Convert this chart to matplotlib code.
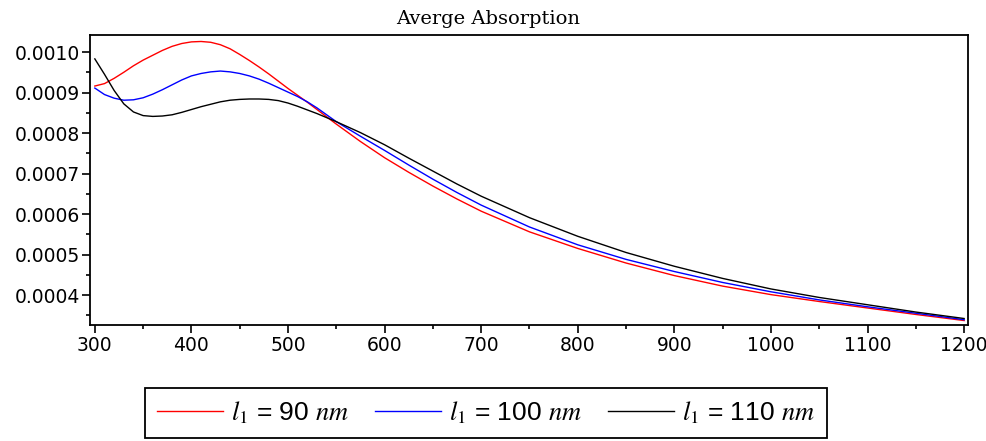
import numpy as np
import matplotlib.pyplot as plt
from matplotlib.ticker import MultipleLocator, FormatStrFormatter

# wavelength (nm) and average absorption
wavelength = [300, 310, 320, 330, 340, 350, 360, 370, 380, 390,
              400, 410, 420, 430, 440, 450, 460, 470, 480, 490,
              500, 510, 520, 530, 540, 550, 575, 600, 625, 650,
              675, 700, 750, 800, 850, 900, 950, 1000, 1050, 1100,
              1150, 1200]

absorb_90 = [0.000916, 0.000922, 0.000935, 0.000950, 0.000966, 0.000980, 0.000992, 0.001004, 0.001014, 0.001021,
             0.001025, 0.001026, 0.001024, 0.001018, 0.001008, 0.000994, 0.000979, 0.000963, 0.000946, 0.000928,
             0.000910, 0.000893, 0.000876, 0.000858, 0.000840, 0.000822, 0.000779, 0.000739, 0.000703, 0.000669,
             0.000637, 0.000607, 0.000556, 0.000515, 0.000479, 0.000448, 0.000422, 0.000401, 0.000384, 0.000368,
             0.000352, 0.000337]

absorb_100 = [0.000911, 0.000895, 0.000886, 0.000881, 0.000882, 0.000887, 0.000896, 0.000907, 0.000919, 0.000931,
              0.000941, 0.000947, 0.000951, 0.000953, 0.000951, 0.000947, 0.000941, 0.000933, 0.000923, 0.000912,
              0.000901, 0.000890, 0.000877, 0.000862, 0.000845, 0.000828, 0.000792, 0.000757, 0.000721, 0.000686,
              0.000653, 0.000622, 0.000568, 0.000524, 0.000488, 0.000458, 0.000431, 0.000408, 0.000388, 0.000371,
              0.000355, 0.000339]

absorb_110 = [0.000983, 0.000945, 0.000905, 0.000872, 0.000852, 0.000843, 0.000841, 0.000842, 0.000845, 0.000851,
              0.000858, 0.000865, 0.000871, 0.000877, 0.000881, 0.000883, 0.000884, 0.000884, 0.000883, 0.000880,
              0.000874, 0.000866, 0.000857, 0.000848, 0.000838, 0.000828, 0.000801, 0.000771, 0.000738, 0.000706,
              0.000674, 0.000644, 0.000591, 0.000545, 0.000505, 0.000471, 0.000441, 0.000415, 0.000394, 0.000376,
              0.000358, 0.000342]

labels = [r'$l_1$ = 90 $nm$', r'$l_1$ = 100 $nm$', r'$l_1$ = 110 $nm$']
colors = ['#ff0000', '#0000ff', '#000000']

plt.rcParams['mathtext.fontset'] = 'stix'

fig = plt.figure(figsize=(9.86, 4.41), dpi=100)
ax = fig.add_axes([90 / 986, 1 - 325 / 441, 878 / 986, 290 / 441])

for ys, c, lab in zip([absorb_90, absorb_100, absorb_110], colors, labels):
    ax.plot(wavelength, ys, color=c, linewidth=1.0, label=lab)

ax.set_xlim(295, 1204)
ax.set_ylim(0.000326, 0.001042)

ax.xaxis.set_major_locator(MultipleLocator(100))
ax.xaxis.set_minor_locator(MultipleLocator(50))
ax.yaxis.set_major_locator(MultipleLocator(0.0001))
ax.yaxis.set_minor_locator(MultipleLocator(0.00005))
ax.yaxis.set_major_formatter(FormatStrFormatter('%.4f'))

ax.tick_params(which='major', direction='out', length=6, width=1.2, labelsize=13.5, pad=1)
ax.tick_params(which='minor', direction='out', length=3, width=1.2)
ax.tick_params(axis='x', pad=2)

for s in ax.spines.values():
    s.set_linewidth(1.3)

fig.text(488 / 986, 1 - 19 / 441, 'Averge Absorption', family='DejaVu Serif',
         fontsize=14, ha='center', va='center')

leg = fig.legend(loc='center', bbox_to_anchor=(486 / 986, 1 - 413 / 441), ncol=3,
                 prop={'family': ['Liberation Sans Narrow', 'Liberation Sans'], 'size': 19},
                 handlelength=2.5, handletextpad=0.3, columnspacing=1.0,
                 fancybox=False, edgecolor='black', framealpha=1, borderpad=0.45)
leg.get_frame().set_linewidth(1.3)

fig.savefig('out.png', dpi=100)
